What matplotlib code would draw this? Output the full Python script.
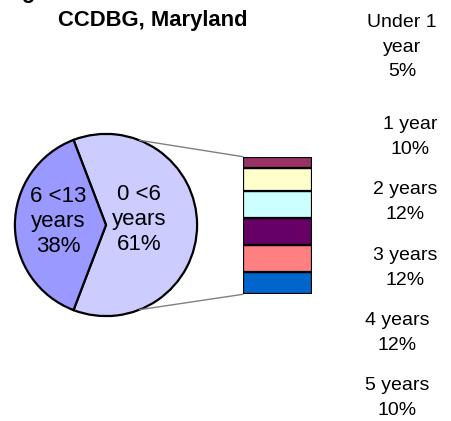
import matplotlib
matplotlib.use("Agg")
import matplotlib.pyplot as plt
from matplotlib.patches import ConnectionPatch
import numpy as np

plt.rcParams['font.family'] = ['Liberation Sans', 'DejaVu Sans']

# Data
pie_labels = ["0 <6\nyears", "6 <13\nyears"]
pie_values = [61, 38]
pie_colors = ["#CCCCFF", "#9999FF"]

bar_labels = ["Under 1\nyear", "1 year", "2 years", "3 years", "4 years", "5 years"]
bar_values = [5, 10, 12, 12, 12, 10]
bar_colors = ["#993366", "#FFFFCC", "#CCFFFF", "#660066", "#FF8080", "#0066CC"]

title_lines = ["Age Distribution of Children", "CCDBG, Maryland"]

W, H = 451, 421
fig = plt.figure(figsize=(W / 100, H / 100), dpi=100)

def fx(px):
    return px / W

def fy(py):
    return 1 - py / H

# Title
fig.text(fx(153), fy(-1.6), title_lines[0], ha='center', va='baseline',
         fontsize=15.8, fontweight='bold')
fig.text(fx(153), fy(26), title_lines[1], ha='center', va='baseline',
         fontsize=15.8, fontweight='bold')

# Pie
cx, cy, r = 106, 225, 92
ax_pie = fig.add_axes([fx(cx - r), fy(cy + r), 2 * r / W, 2 * r / H])
total = sum(pie_values)
start = -(pie_values[0] / total * 360) / 2
wedges, _ = ax_pie.pie(pie_values, colors=pie_colors, startangle=start,
                       counterclock=True, radius=1,
                       wedgeprops=dict(edgecolor='black', linewidth=1.6))
ax_pie.set_xlim(-1.01, 1.01)
ax_pie.set_ylim(-1.01, 1.01)
ax_pie.set_aspect('auto')
ax_pie.axis('off')

pie_label_pos = [(139, 220), (58, 222)]
for (px, py), lab, v in zip(pie_label_pos, pie_labels, pie_values):
    fig.text(fx(px), fy(py), f"{lab}\n{v}%", ha='center', va='center',
             multialignment='center', fontsize=16, linespacing=1.25)

# Stacked bar
bx0, bx1, by0, by1 = 243, 312, 156.7, 294.3
ax_bar = fig.add_axes([fx(bx0), fy(by1), (bx1 - bx0) / W, (by1 - by0) / H])
bottom = 0
for v, c in zip(bar_values[::-1], bar_colors[::-1]):
    ax_bar.bar(0.5, v, width=1.0, bottom=bottom, color=c,
               edgecolor='black', linewidth=1.6)
    bottom += v
ax_bar.set_xlim(0, 1)
ax_bar.set_ylim(0, sum(bar_values))
ax_bar.axis('off')

# Connector lines
ang = np.deg2rad(68.4)
for sgn, yb in [(1, sum(bar_values)), (-1, 0)]:
    con = ConnectionPatch(xyA=(np.cos(ang), sgn * np.sin(ang)), coordsA=ax_pie.transData,
                          xyB=(0, yb), coordsB=ax_bar.transData,
                          color='#808080', linewidth=1.0)
    fig.add_artist(con)

# Right labels
label_pos = [(402, 47), (410, 137), (405, 202), (405, 268), (397, 333), (397, 398)]
for (px, py), lab, v in zip(label_pos, bar_labels, bar_values):
    fig.text(fx(px), fy(py), f"{lab}\n{v}%", ha='center', va='center',
             multialignment='center', fontsize=14, linespacing=1.6)

fig.savefig("out.png", dpi=100)
